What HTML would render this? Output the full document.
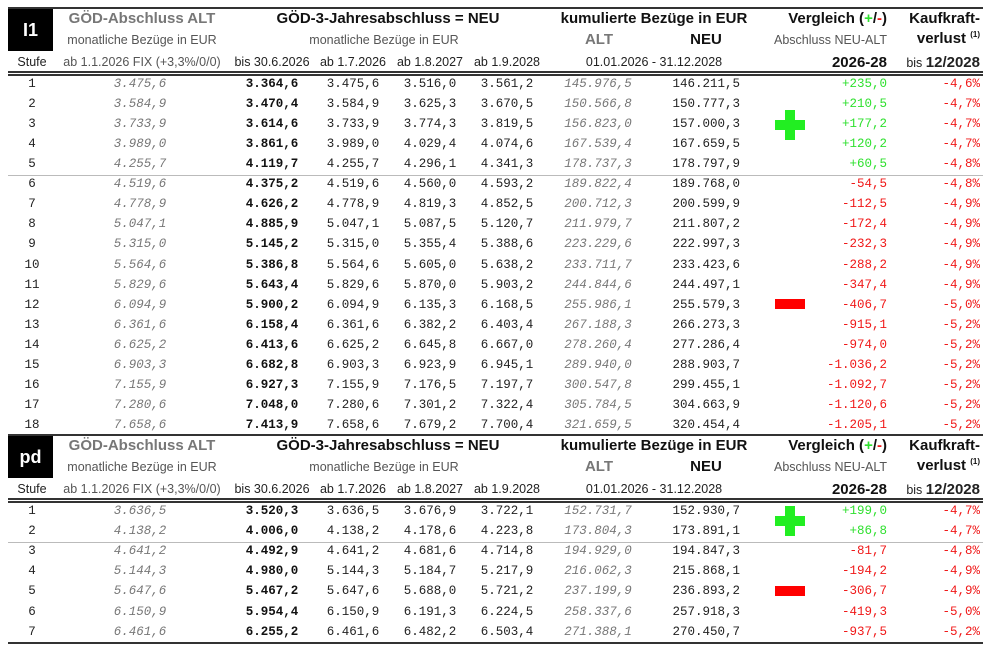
<!DOCTYPE html>
<html><head><meta charset="utf-8">
<style>
body{margin:0;width:990px;height:648px;background:#fff;overflow:hidden;position:relative;font-family:"Liberation Sans",sans-serif;}
.t{position:absolute;white-space:nowrap;line-height:1;}
.c{transform:translateX(-50%);}
.r{transform:translateX(-100%);}
.m{font-family:"Liberation Mono",monospace;font-size:12.5px;color:#222;}
.i{font-style:italic;color:#777;}
.b{font-weight:bold;color:#111;}
.g{color:#2fe02f;}
.red{color:#f01818;}
.hd{font-weight:bold;font-size:15px;color:#111;}
.hg{font-weight:bold;font-size:15px;color:#777;}
.sm{font-size:12.5px;color:#555;}
.sd{font-size:12.5px;color:#222;}
.line{position:absolute;left:8px;width:975px;}
.box{position:absolute;left:8px;width:45px;height:42px;background:#000;color:#fff;font-weight:bold;font-size:18px;display:flex;align-items:center;justify-content:center;}
</style></head><body>
<div id="root"></div>
<script>
const stufen1=[1,2,3,4,5,6,7,8,9,10,11,12,13,14,15,16,17,18];
const alt1=["3.475,6","3.584,9","3.733,9","3.989,0","4.255,7","4.519,6","4.778,9","5.047,1","5.315,0","5.564,6","5.829,6","6.094,9","6.361,6","6.625,2","6.903,3","7.155,9","7.280,6","7.658,6"];
const bis1=["3.364,6","3.470,4","3.614,6","3.861,6","4.119,7","4.375,2","4.626,2","4.885,9","5.145,2","5.386,8","5.643,4","5.900,2","6.158,4","6.413,6","6.682,8","6.927,3","7.048,0","7.413,9"];
const ab26_1=["3.475,6","3.584,9","3.733,9","3.989,0","4.255,7","4.519,6","4.778,9","5.047,1","5.315,0","5.564,6","5.829,6","6.094,9","6.361,6","6.625,2","6.903,3","7.155,9","7.280,6","7.658,6"];
const ab27_1=["3.516,0","3.625,3","3.774,3","4.029,4","4.296,1","4.560,0","4.819,3","5.087,5","5.355,4","5.605,0","5.870,0","6.135,3","6.382,2","6.645,8","6.923,9","7.176,5","7.301,2","7.679,2"];
const ab28_1=["3.561,2","3.670,5","3.819,5","4.074,6","4.341,3","4.593,2","4.852,5","5.120,7","5.388,6","5.638,2","5.903,2","6.168,5","6.403,4","6.667,0","6.945,1","7.197,7","7.322,4","7.700,4"];
const kalt1=["145.976,5","150.566,8","156.823,0","167.539,4","178.737,3","189.822,4","200.712,3","211.979,7","223.229,6","233.711,7","244.844,6","255.986,1","267.188,3","278.260,4","289.940,0","300.547,8","305.784,5","321.659,5"];
const kneu1=["146.211,5","150.777,3","157.000,3","167.659,5","178.797,9","189.768,0","200.599,9","211.807,2","222.997,3","233.423,6","244.497,1","255.579,3","266.273,3","277.286,4","288.903,7","299.455,1","304.663,9","320.454,4"];
const diff1=["+235,0","+210,5","+177,2","+120,2","+60,5","-54,5","-112,5","-172,4","-232,3","-288,2","-347,4","-406,7","-915,1","-974,0","-1.036,2","-1.092,7","-1.120,6","-1.205,1"];
const kk1=["-4,6%","-4,7%","-4,7%","-4,7%","-4,8%","-4,8%","-4,9%","-4,9%","-4,9%","-4,9%","-4,9%","-5,0%","-5,2%","-5,2%","-5,2%","-5,2%","-5,2%","-5,2%"];
const stufen2=[1,2,3,4,5,6,7];
const alt2=["3.636,5","4.138,2","4.641,2","5.144,3","5.647,6","6.150,9","6.461,6"];
const bis2=["3.520,3","4.006,0","4.492,9","4.980,0","5.467,2","5.954,4","6.255,2"];
const ab26_2=["3.636,5","4.138,2","4.641,2","5.144,3","5.647,6","6.150,9","6.461,6"];
const ab27_2=["3.676,9","4.178,6","4.681,6","5.184,7","5.688,0","6.191,3","6.482,2"];
const ab28_2=["3.722,1","4.223,8","4.714,8","5.217,9","5.721,2","6.224,5","6.503,4"];
const kalt2=["152.731,7","173.804,3","194.929,0","216.062,3","237.199,9","258.337,6","271.388,1"];
const kneu2=["152.930,7","173.891,1","194.847,3","215.868,1","236.893,2","257.918,3","270.450,7"];
const diff2=["+199,0","+86,8","-81,7","-194,2","-306,7","-419,3","-937,5"];
const kk2=["-4,7%","-4,7%","-4,8%","-4,9%","-4,9%","-5,0%","-5,2%"];

const root=document.getElementById('root');
function T(txt,x,y,cls,name,html){
  const d=document.createElement('div');
  d.className='t '+cls;
  d.style.left=x+'px';d.style.top=y+'px';
  if(html)d.innerHTML=txt;else d.textContent=txt;
  
  
  root.appendChild(d);return d;
}
function L(y,h,color,name){
  const d=document.createElement('div');
  d.className='line';d.style.top=y+'px';d.style.height=h+'px';d.style.background=color;
  
  
  root.appendChild(d);
}
function header(y0,label,pre){
  const b=document.createElement('div');b.className='box';b.style.top=(y0+1)+'px';b.textContent=label;
  
  
  root.appendChild(b);
  T('GÖD-Abschluss ALT',142,y0+3,'c hg',pre+'-alt-title');
  T('GÖD-3-Jahresabschluss = NEU',388,y0+3,'c hd',pre+'-neu-title');
  T('kumulierte Bezüge in EUR',654,y0+3,'c hd',pre+'-cumulative-title');
  T('Vergleich (<span class="g">+</span>/<span class="red">-</span>)',887,y0+3,'r hd',pre+'-compare-title',true);
  T('Kaufkraft-',980,y0+3,'r hd',pre+'-kaufkraft-title');
  T('monatliche Bezüge in EUR',142,y0+26,'c sm',pre+'-alt-subtitle');
  T('monatliche Bezüge in EUR',384,y0+26,'c sm',pre+'-neu-subtitle');
  T('ALT',599,y0+24,'c hg',pre+'-cum-alt-header');
  T('NEU',706,y0+24,'c hd',pre+'-cum-neu-header');
  T('Abschluss NEU-ALT',887,y0+26,'r sm',pre+'-compare-subtitle');
  T('verlust <sup style="font-size:8px">(1)</sup>',980,y0+23,'r hd',pre+'-kaufkraft-subtitle',true);
  const y3=y0+48;
  T('Stufe',32,y3,'c sd',pre+'-stufe-header');
  T('ab 1.1.2026 FIX (+3,3%/0/0)',142,y3,'c sm',pre+'-alt-date');
  T('bis 30.6.2026',272,y3,'c sd',pre+'-col-bis-2026');
  T('ab 1.7.2026',353,y3,'c sd',pre+'-col-ab-2026');
  T('ab 1.8.2027',430,y3,'c sd',pre+'-col-ab-2027');
  T('ab 1.9.2028',507,y3,'c sd',pre+'-col-ab-2028');
  T('01.01.2026 - 31.12.2028',654,y3,'c sd',pre+'-cum-period');
  T('2026-28',887,y3-1,'r hd',pre+'-compare-period');
  T('bis <b style="font-size:15px">12/2028</b>',980,y3-1,'r sd',pre+'-kaufkraft-period',true);
  L(y0+63,1.5,'#333',pre+'-header-rule-1');
  L(y0+66,1.5,'#333',pre+'-header-rule-2');
}
function rows(y1,step,st,alt,bis,a26,a27,a28,ka,kn,df,kk,pre){
  for(let k=0;k<st.length;k++){
    const y=y1+k*step-7;
    T(String(st[k]),32,y,'c m',pre+'-stufe-'+st[k]);
    T(alt[k],140,y,'c m i',pre+'-alt-'+st[k]);
    T(bis[k],272,y,'c m b',pre+'-bis-2026-'+st[k]);
    T(a26[k],353,y,'c m',pre+'-ab-2026-'+st[k]);
    T(a27[k],430,y,'c m',pre+'-ab-2027-'+st[k]);
    T(a28[k],507,y,'c m',pre+'-ab-2028-'+st[k]);
    T(ka[k],598,y,'c m i',pre+'-cum-alt-'+st[k]);
    T(kn[k],740,y,'r m',pre+'-cum-neu-'+st[k]);
    T(df[k],887,y,'r m '+(df[k][0]=='+'?'g':'red'),pre+'-diff-'+st[k]);
    T(kk[k],980,y,'r m red',pre+'-kaufkraft-'+st[k]);
  }
}
function plus(x,y,name){
  const s=document.createElementNS('http://www.w3.org/2000/svg','svg');
  s.setAttribute('width','30');s.setAttribute('height','30');
  s.style.position='absolute';s.style.left=x+'px';s.style.top=y+'px';
  s.innerHTML='<rect x="10" y="0" width="10" height="30" fill="#22ee22"/><rect x="0" y="10" width="30" height="10" fill="#22ee22"/>';
  
  
  root.appendChild(s);
}
function minus(x,y,name){
  const d=document.createElement('div');
  d.style.cssText='position:absolute;left:'+x+'px;top:'+y+'px;width:30px;height:10px;background:#f00;';
  
  
  root.appendChild(d);
}
L(7,1.5,'#333','top-rule');
header(8,'I1','l1');
rows(85,20.06,stufen1,alt1,bis1,ab26_1,ab27_1,ab28_1,kalt1,kneu1,diff1,kk1,'l1');
L(175,1,'#bbb','l1-separator');
plus(775,110,'l1-plus-icon');
minus(775,299,'l1-minus-icon');
L(434,1.5,'#333','pd-top-rule');
header(435,'pd','pd');
rows(512,20.1,stufen2,alt2,bis2,ab26_2,ab27_2,ab28_2,kalt2,kneu2,diff2,kk2,'pd');
L(542,1,'#bbb','pd-separator');
plus(775,506,'pd-plus-icon');
minus(775,586,'pd-minus-icon');
L(642,1.5,'#333','bottom-rule');
</script>
</body></html>
